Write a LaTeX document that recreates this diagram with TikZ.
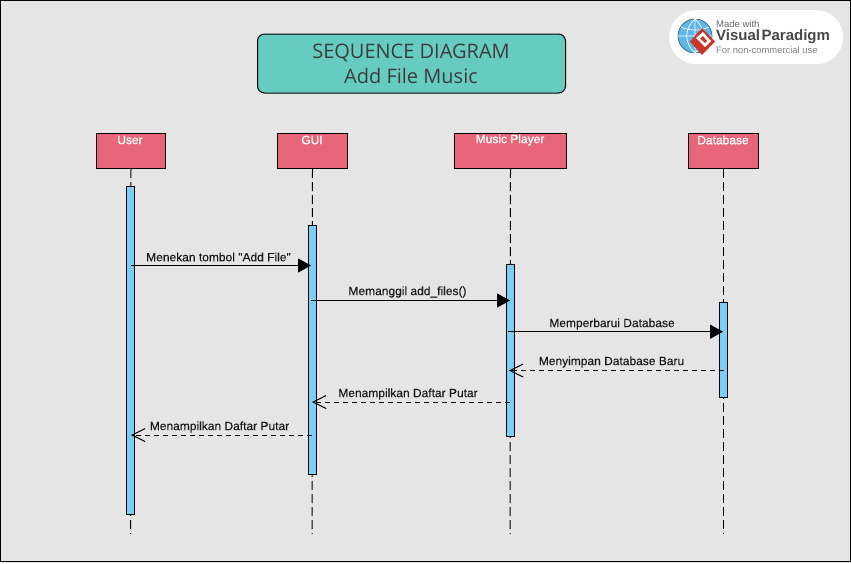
\documentclass[tikz,border=0pt]{standalone}
\usepackage{fontspec}
\setmainfont{Liberation Sans}
\newfontfamily\titlefont{Open Sans}
\newfontfamily\headfont[FakeBold=1]{Liberation Sans}
\newfontfamily\msgfont[FakeBold=0.2]{Liberation Sans}
\usetikzlibrary{arrows.meta}
\definecolor{bgc}{HTML}{E5E5E5}
\definecolor{titlec}{HTML}{66CCC0}
\definecolor{headc}{HTML}{E8667A}
\definecolor{actc}{HTML}{7BCEF6}
\definecolor{txtc}{HTML}{1A1A1A}
\definecolor{logored}{HTML}{C9352B}
\definecolor{logoblue}{HTML}{5FB7E6}
\tikzset{
  x=1pt,y=-1pt,
  head/.style={draw=black,line width=1pt,fill=headc,minimum width=#1,minimum height=35pt,inner sep=0pt,anchor=north west},
  headlabel/.style={text=white,font=\headfont\fontsize{12}{14}\selectfont,inner sep=0pt},
  act/.style={draw=black,line width=1pt,fill=actc,minimum width=8pt,minimum height=#1,inner sep=0pt,anchor=north},
  life/.style={draw=black,line width=1pt,dash pattern=on 9pt off 4pt},
  sync/.style={draw=black,line width=1.1pt,-{Triangle[length=13pt,width=14pt]}},
  reply/.style={draw=black,line width=1pt,dash pattern=on 5pt off 4pt,-{Straight Barb[length=13pt,width=13pt,line width=1pt]}},
  msg/.style={text=txtc,font=\msgfont\fontsize{12}{14}\selectfont,inner sep=0pt},
}
\begin{document}
\begin{tikzpicture}
\useasboundingbox (0,0) rectangle (851,563);
\fill[bgc] (0,0) rectangle (851,563);
\draw[black,line width=1.4pt] (0.6,0.6) rectangle (850.4,561.6);

% title
\node[draw=black,line width=1pt,fill=titlec,rounded corners=7pt,minimum width=308pt,minimum height=59pt,inner sep=0pt,anchor=north west] (title) at (257,33.5) {};
\node[text=txtc!85!white,align=center,inner sep=0pt,font=\titlefont\fontsize{20}{24.5}\selectfont] (titletext) at (411,64) {SEQUENCE DIAGRAM\\Add File Music};

% logo
\node[fill=white,rounded corners=27pt,minimum width=174pt,minimum height=54pt,inner sep=0pt,anchor=north west] (logobg) at (669,10) {};
\node[circle,draw=black!45!logoblue,line width=0.7pt,fill=logoblue,minimum size=34pt,inner sep=0pt] (globe) at (695,36) {};
\draw[white,line width=0.7pt] (globe.west) -- (globe.east) (globe.north) -- (globe.south)
  (globe.north) .. controls (684,29) and (684,43) .. (globe.south)
  (globe.north) .. controls (706,29) and (706,43) .. (globe.south)
  (681,27) .. controls (689,31) and (701,31) .. (709,27);
\fill[logored] (702,28) -- (715,41.5) -- (702,55) -- (690,41.5) -- cycle;
\fill[white] (703,32) -- (711,41) -- (705,47) -- (696,38) -- cycle;
\fill[logored] (703,36) -- (707,41) -- (705,43) -- (700,38.5) -- cycle;
\node[anchor=west,inner sep=0pt,text=black!60,font=\fontsize{9.5}{10}\selectfont] (logoa) at (716,24) {Made with};
\node[anchor=west,inner sep=0pt,text=black!72,font=\bfseries\fontsize{15}{16}\selectfont] (logob) at (716,37) {Visual\kern1.5pt Paradigm};
\node[anchor=west,inner sep=0pt,text=black!50,font=\fontsize{9.4}{10}\selectfont] (logoc) at (716,50) {For non-commercial use};

% heads
\node[head=69pt] (user) at (96,133) {};
\node[head=70pt] (gui) at (277,133) {};
\node[head=112pt] (mp) at (454,133) {};
\node[head=70pt] (db) at (688,133) {};
\node[headlabel] (userl) at (130,140) {User};
\node[headlabel] (guil) at (312,140) {GUI};
\node[headlabel] (mpl) at (510,140) {Music Player};
\node[headlabel] (dbl) at (723,140) {Database};

% lifelines
\coordinate (userend) at (130.5,534);
\coordinate (guiend) at (312,534);
\coordinate (mpend) at (510,534);
\coordinate (dbend) at (723.5,534);
\draw[life] (user.south) -- (userend);
\draw[life] (gui.south) -- (guiend);
\draw[life] (mp.south) -- (mpend);
\draw[life] (db.south) -- (dbend);

% activations
\node[act=327.5pt] (auser) at (130.5,186) {};
\node[act=249pt] (agui) at (312,225) {};
\node[act=172pt] (amp) at (510.5,264) {};
\node[act=95pt] (adb) at (723.5,302) {};

% message ends
\coordinate (m1a) at (130.5,265.5); \coordinate (m1b) at (311,265.5);
\coordinate (m2a) at (311,300.5); \coordinate (m2b) at (510,300.5);
\coordinate (m3a) at (508,331.7); \coordinate (m3b) at (723,331.7);
\coordinate (m4a) at (724,370.5); \coordinate (m4b) at (509,370.5);
\coordinate (m5a) at (510,402); \coordinate (m5b) at (312,402);
\coordinate (m6a) at (312,435); \coordinate (m6b) at (131,435);

\draw[sync] (m1a) -- (m1b);
\draw[sync] (m2a) -- (m2b);
\draw[sync,line width=1.5pt] (m3a) -- (m3b);
\draw[reply] (m4a) -- (m4b);
\draw[reply] (m5a) -- (m5b);
\draw[reply] (m6a) -- (m6b);

\node[msg] (t1) at (218.5,257) {Menekan tombol "Add File"};
\node[msg] (t2) at (407.5,292) {Memanggil add\_files()};
\node[msg] (t3) at (612,324) {Memperbarui Database};
\node[msg] (t4) at (611.5,362) {Menyimpan Database Baru};
\node[msg] (t5) at (408,394) {Menampilkan Daftar Putar};
\node[msg] (t6) at (219.5,427) {Menampilkan Daftar Putar};
\end{tikzpicture}
\end{document}
